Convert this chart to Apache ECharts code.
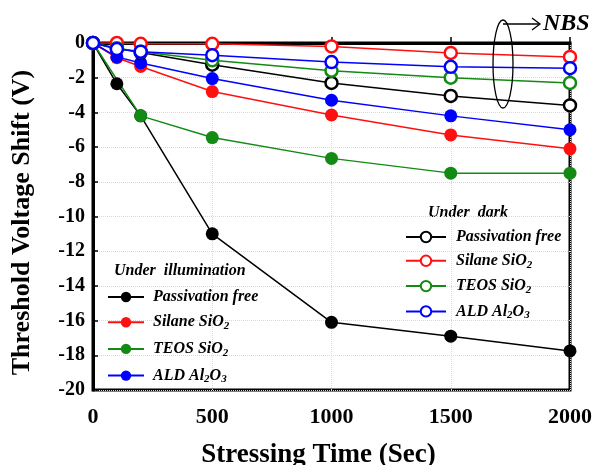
<!DOCTYPE html>
<html><head><meta charset="utf-8">
<script src="https://cdn.jsdelivr.net/npm/echarts@6/dist/echarts.min.js"></script>
<style>html,body{margin:0;padding:0;background:#fff}#c{width:595px;height:465px}</style>
</head><body><div id="c"></div>
<script>
const times = [0, 100, 200, 500, 1000, 1500, 2000];
const yTicks = [0, -2, -4, -6, -8, -10, -12, -14, -16, -18, -20];
const xTicks = [0, 500, 1000, 1500, 2000];
// Under illumination (filled)
const illumPassivation = [0, -2.35, -4.2, -11.0, -16.1, -16.9, -17.75];
const illumSilane = [0, -0.85, -1.35, -2.8, -4.15, -5.3, -6.1];
const illumTEOS = [0, null, -4.2, -5.45, -6.65, -7.5, -7.5];
const illumALD = [0, -0.8, -1.15, -2.05, -3.3, -4.2, -5.0];
// Under dark (open)
const darkPassivation = [0, -0.3, -0.55, -1.25, -2.3, -3.05, -3.6];
const darkSilane = [0, 0, -0.05, -0.05, -0.2, -0.57, -0.8];
const darkTEOS = [0, -0.3, -0.5, -1.0, -1.6, -2.0, -2.3];
const darkALD = [0, -0.35, -0.5, -0.7, -1.1, -1.37, -1.45];

const labels = {
  iPF: '{f|Passivation free}', iSi: '{f|Silane SiO}{s|2}', iTE: '{f|TEOS SiO}{s|2}', iAL: '{f|ALD Al}{s|2}{t|O}{s|3}',
  dPF: '{g|Passivation free}', dSi: '{g|Silane SiO}{s|2}', dTE: '{g|TEOS SiO}{s|2}', dAL: '{g|ALD Al}{s|2}{t|O}{s|3}'
};
const colors = { k: '#000000', r: '#ff1010', g: '#138a13', b: '#0000ff' };
const serif = 'Liberation Serif';

function pts(arr) { return times.map((t, i) => [t, arr[i]]); }
function filled(name, arr, c) {
  return { name, type: 'line', data: pts(arr), connectNulls: true, symbol: 'circle', symbolSize: 13,
    lineStyle: { color: c, width: 1.5 }, itemStyle: { color: c }, z: 2 };
}
function open(name, arr, c) {
  return { name, type: 'line', data: pts(arr), symbol: 'circle', symbolSize: 12,
    lineStyle: { color: c, width: 1.5 }, itemStyle: { color: '#fff', borderColor: c, borderWidth: 2.5 }, z: 3 };
}
const base = { fontFamily: serif, fontStyle: 'italic', fontWeight: 'bold', fontSize: 16, color: '#000', lineHeight: 16 };
const rich = {
  t: Object.assign({}, base),
  f: Object.assign({}, base, { padding: [0, 0, 0, 4] }),
  g: Object.assign({}, base, { padding: [0, 0, 0, 5] }),
  s: Object.assign({}, base, { fontSize: 11, lineHeight: 8, padding: [8, 0, 0, 0] })
};
const chart = echarts.init(document.getElementById('c'), null, { renderer: 'canvas' });
chart.setOption({
  animation: false,
  backgroundColor: '#fff',
  grid: { left: 93, right: 25, top: 43, bottom: 75, show: true, borderColor: '#000', borderWidth: 3,
    containLabel: false, outerBoundsMode: 'none' },
  xAxis: {
    type: 'value', min: 0, max: 2000, interval: 500,
    name: 'Stressing Time (Sec)', nameLocation: 'middle', nameGap: 52,
    nameTextStyle: { fontFamily: serif, fontWeight: 'bold', fontSize: 27, color: '#000', padding: [0, 26, 0, 0] },
    axisLine: { lineStyle: { color: '#000', width: 3 } },
    axisTick: { inside: true, length: 6, lineStyle: { color: '#000', width: 1.5 } },
    axisLabel: { margin: 16, fontFamily: serif, fontWeight: 'bold', fontSize: 22, color: '#000',
      formatter: v => xTicks.includes(v) ? String(v) : '' },
    splitLine: { show: true, lineStyle: { color: '#d8d8d8', type: 'dotted', width: 1 } }
  },
  yAxis: {
    type: 'value', min: -20, max: 0, interval: 2,
    name: 'Threshold Voltage Shift (V)', nameLocation: 'middle', nameGap: 58,
    nameTextStyle: { fontFamily: serif, fontWeight: 'bold', fontSize: 26, color: '#000', padding: [0, 12, 0, 0] },
    axisLine: { lineStyle: { color: '#000', width: 3 } },
    axisTick: { inside: true, length: 5, lineStyle: { color: '#000', width: 1.5 } },
    axisLabel: { margin: 8, fontFamily: serif, fontWeight: 'bold', fontSize: 20, color: '#000',
      formatter: v => yTicks.includes(v) ? String(v) : '' },
    splitLine: { show: true, lineStyle: { color: '#d8d8d8', type: 'dotted', width: 1 } }
  },
  legend: [
    { data: ['dPF', 'dSi', 'dTE', 'dAL'], orient: 'vertical', left: 405, top: 229, padding: 0,
      itemWidth: 40, itemHeight: 13, itemGap: 6.3, formatter: n => labels[n],
      textStyle: { rich }, selectedMode: false },
    { data: ['iPF', 'iSi', 'iTE', 'iAL'], orient: 'vertical', left: 107, top: 289, padding: 0,
      itemWidth: 36, itemHeight: 13, itemGap: 7.7, formatter: n => labels[n],
      textStyle: { rich }, selectedMode: false }
  ],
  graphic: [
    { type: 'text', left: 428, top: 205, style: { text: 'Under  dark', font: 'italic bold 16px "Liberation Serif"', fill: '#000' } },
    { type: 'text', left: 114, top: 263, style: { text: 'Under  illumination', font: 'italic bold 16px "Liberation Serif"', fill: '#000' } },
    { type: 'ellipse', shape: { cx: 503, cy: 64, rx: 10, ry: 44 }, style: { fill: 'none', stroke: '#000', lineWidth: 1.3 }, z: 10 },
    { type: 'polyline', shape: { points: [[503, 24], [539, 24]] }, style: { stroke: '#000', lineWidth: 1.3, fill: 'none' }, z: 10 },
    { type: 'polyline', shape: { points: [[532, 18], [540, 24], [532, 30]] }, style: { stroke: '#000', lineWidth: 1.3, fill: 'none' }, z: 10 },
    { type: 'text', left: 543, top: 12, style: { text: 'NBS', font: 'italic bold 24px "Liberation Serif"', fill: '#000' }, z: 10 }
  ],
  series: [
    filled('iPF', illumPassivation, colors.k),
    filled('iSi', illumSilane, colors.r),
    filled('iTE', illumTEOS, colors.g),
    filled('iAL', illumALD, colors.b),
    open('dPF', darkPassivation, colors.k),
    open('dSi', darkSilane, colors.r),
    open('dTE', darkTEOS, colors.g),
    open('dAL', darkALD, colors.b)
  ]
});
</script></body></html>
